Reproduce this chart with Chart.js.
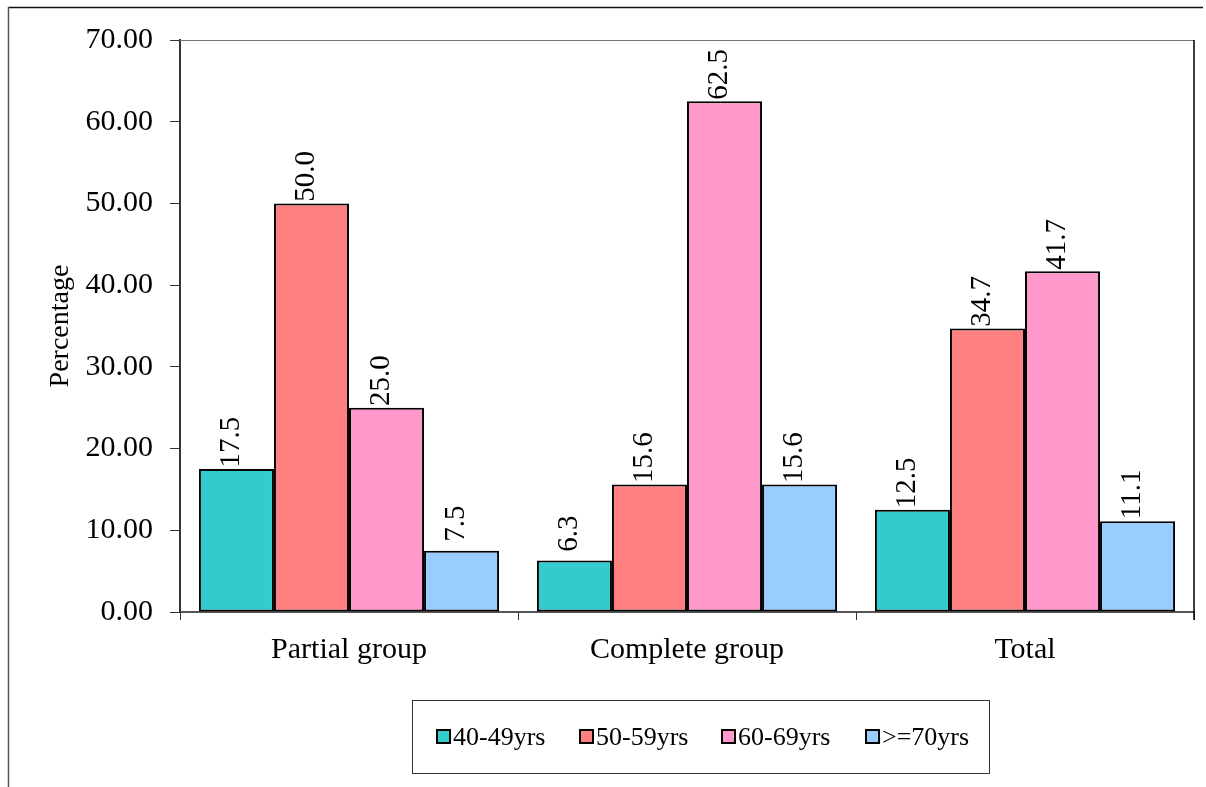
<!DOCTYPE html>
<html>
<head>
<meta charset="utf-8">
<script src="https://cdn.jsdelivr.net/npm/chart.js@4/dist/chart.umd.min.js"></script>
<style>
  html, body { margin: 0; padding: 0; background: #fff; }
  #wrap { width: 1206px; height: 787px; position: relative; }
</style>
</head>
<body>
<div id="wrap"><canvas id="c" width="1206" height="787"></canvas></div>
<script>
// Groups on the x axis
const categories = ['Partial group', 'Complete group', 'Total'];

// Age bands (series)
const seriesNames = ['40-49yrs', '50-59yrs', '60-69yrs', '>=70yrs'];

// Percentage per age band, in category order
const age40to49 = [17.5, 6.3, 12.5];
const age50to59 = [50.0, 15.6, 34.7];
const age60to69 = [25.0, 62.5, 41.7];
const age70plus = [7.5, 15.6, 11.1];

// Y axis tick values
const yTicks = [0, 10, 20, 30, 40, 50, 60, 70];

const seriesValues = [age40to49, age50to59, age60to69, age70plus];
const seriesColors = ['#33CCCC', '#FF8080', '#FF99CC', '#99CCFF'];

const SERIF = '"Liberation Serif", "Times New Roman", serif';

// Rotated value labels above each bar
const valueLabels = {
  id: 'valueLabels',
  afterDatasetsDraw(chart) {
    const ctx = chart.ctx;
    ctx.save();
    ctx.font = '29px ' + SERIF;
    ctx.fillStyle = '#000';
    ctx.textAlign = 'center';
    ctx.textBaseline = 'middle';
    chart.data.datasets.forEach((ds, di) => {
      const meta = chart.getDatasetMeta(di);
      meta.data.forEach((bar, i) => {
        const v = ds.data[i];
        ctx.save();
        ctx.translate(bar.x - 5, bar.y - 27);
        ctx.rotate(-Math.PI / 2);
        ctx.fillText(v.toFixed(1), 0, 0);
        ctx.restore();
      });
    });
    ctx.restore();
  }
};

// Outer frame, plot border and boxed legend
const frameAndLegend = {
  id: 'frameAndLegend',
  beforeDatasetsDraw(chart) {
    const ctx = chart.ctx;
    const a = chart.chartArea;
    ctx.save();
    // plot area top and right edges
    ctx.strokeStyle = '#777';
    ctx.lineWidth = 1;
    ctx.beginPath();
    ctx.moveTo(a.left, a.top + 0.5);
    ctx.lineTo(a.right, a.top + 0.5);
    ctx.stroke();
    ctx.strokeStyle = '#000';
    ctx.lineWidth = 1.5;
    ctx.beginPath();
    ctx.moveTo(a.right, a.top);
    ctx.lineTo(a.right, a.bottom + 8);
    ctx.stroke();
    ctx.restore();
  },
  afterDraw(chart) {
    const ctx = chart.ctx;
    ctx.save();
    // outer frame (top and left)
    ctx.strokeStyle = '#111';
    ctx.lineWidth = 1.5;
    ctx.beginPath();
    ctx.moveTo(8, 7.5);
    ctx.lineTo(1203, 7.5);
    ctx.stroke();
    ctx.strokeStyle = '#555';
    ctx.beginPath();
    ctx.moveTo(8.5, 7);
    ctx.lineTo(8.5, 787);
    ctx.stroke();

    // legend box
    const box = { x: 412.5, y: 700.5, w: 577, h: 73 };
    ctx.strokeStyle = '#333';
    ctx.lineWidth = 1;
    ctx.strokeRect(box.x, box.y, box.w, box.h);

    const itemX = [437, 580, 722, 866];
    const cy = 737;
    ctx.font = '26px ' + SERIF;
    ctx.textBaseline = 'middle';
    ctx.textAlign = 'left';
    chart.data.datasets.forEach((ds, i) => {
      const x = itemX[i];
      ctx.fillStyle = ds.backgroundColor;
      ctx.fillRect(x, cy - 7, 13, 13);
      ctx.strokeStyle = '#000';
      ctx.lineWidth = 2;
      ctx.strokeRect(x, cy - 7, 13, 13);
      ctx.fillStyle = '#000';
      ctx.fillText(ds.label, x + 16, cy + 1);
    });
    ctx.restore();
  }
};

new Chart(document.getElementById('c'), {
  type: 'bar',
  data: {
    labels: categories,
    datasets: seriesNames.map((name, i) => ({
      label: name,
      data: seriesValues[i],
      backgroundColor: seriesColors[i],
      borderColor: '#000',
      borderWidth: 2,
      borderSkipped: false,
      barPercentage: 1.0,
      categoryPercentage: 0.888
    }))
  },
  options: {
    responsive: false,
    animation: false,
    devicePixelRatio: 1,
    layout: { padding: { left: 40, top: 40, right: 12, bottom: 0 } },
    plugins: {
      legend: { display: false },
      tooltip: { enabled: false }
    },
    scales: {
      x: {
        afterFit(scale) { scale.height = 175; },
        grid: {
          offset: true,
          drawOnChartArea: false,
          drawTicks: true,
          tickLength: 8,
          tickColor: '#333',
          lineWidth: 1
        },
        border: { display: true, color: '#555', width: 2 },
        ticks: {
          color: '#000',
          font: { family: SERIF, size: 30 },
          padding: 12,
          maxRotation: 0
        }
      },
      y: {
        min: 0,
        max: 70,
        afterFit(scale) { scale.width = 140; },
        afterBuildTicks(scale) { scale.ticks = yTicks.map(v => ({ value: v })); },
        grid: {
          drawOnChartArea: false,
          drawTicks: true,
          tickLength: 10,
          tickColor: '#333',
          lineWidth: 1
        },
        border: { display: true, color: '#333', width: 2 },
        ticks: {
          color: '#000',
          font: { family: SERIF, size: 30 },
          padding: 17,
          callback: v => Number(v).toFixed(2)
        },
        title: {
          display: true,
          text: 'Percentage',
          color: '#000',
          font: { family: SERIF, size: 28 },
          padding: { top: 4, bottom: 4 }
        }
      }
    }
  },
  plugins: [valueLabels, frameAndLegend]
});
</script>
</body>
</html>
